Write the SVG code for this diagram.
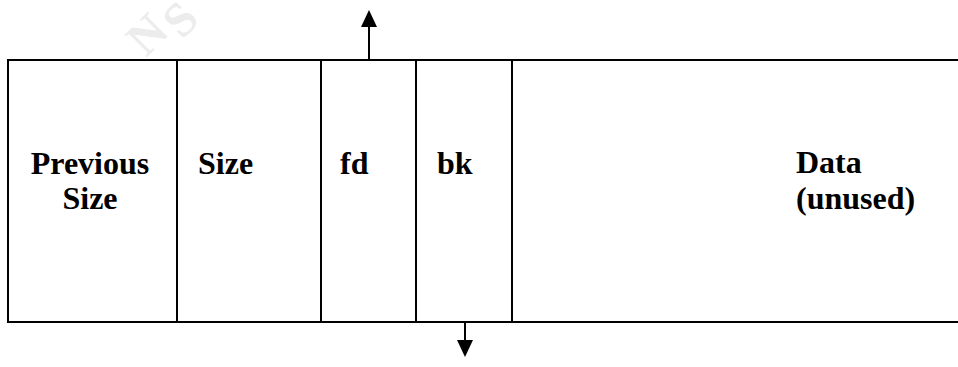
<svg xmlns="http://www.w3.org/2000/svg" width="958" height="367" viewBox="0 0 958 367">
<style>
.cell{fill:none;stroke:#000;stroke-width:2}
.lbl{font-family:"Liberation Serif","Times New Roman",serif;font-weight:bold;font-size:32px;fill:#000}
.conn{stroke:#000;stroke-width:2;fill:none}
.wm{font-family:"Liberation Serif","Times New Roman",serif;font-weight:bold;font-size:48px;fill:#ececec}
</style>
<defs>
<marker id="ah" markerUnits="userSpaceOnUse" viewBox="0 0 17 16" markerWidth="17" markerHeight="16" refX="0" refY="8" orient="auto">
<path d="M0,0 L17,8 L0,16 z" fill="#000"/>
</marker>
</defs>
<rect width="958" height="367" fill="#fff"/>
<text class="wm" x="146 182" y="58 40" rotate="-45 -45">NS</text>
<g id="prev-size">
<rect class="cell" x="8" y="60" width="169" height="262"/>
<text class="lbl" text-anchor="middle"><tspan x="90" y="174">Previous</tspan><tspan x="90" y="209">Size</tspan></text>
</g>
<g id="size">
<rect class="cell" x="177" y="60" width="144" height="262"/>
<text class="lbl" x="198" y="174">Size</text>
</g>
<g id="fd">
<rect class="cell" x="321" y="60" width="95" height="262"/>
<text class="lbl" x="340" y="174">fd</text>
</g>
<g id="bk">
<rect class="cell" x="416" y="60" width="96" height="262"/>
<text class="lbl" x="437" y="174">bk</text>
</g>
<g id="data">
<rect class="cell" x="512" y="60" width="460" height="262"/>
<text class="lbl"><tspan x="796" y="173">Data</tspan><tspan x="796" y="209">(unused)</tspan></text>
</g>
<g id="connectors">
<line class="conn" x1="369" y1="60" x2="369" y2="27" marker-end="url(#ah)"/>
<line class="conn" x1="465" y1="322" x2="465" y2="340" marker-end="url(#ah)"/>
</g>
</svg>
